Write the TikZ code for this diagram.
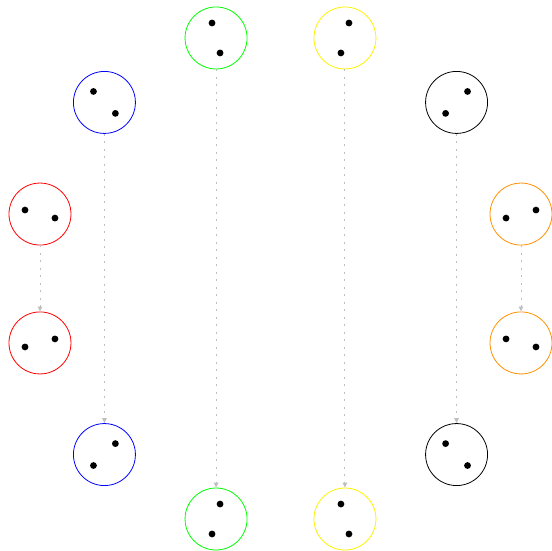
\documentclass[tikz,border=0pt]{standalone}
\usetikzlibrary{calc,arrows.meta}
\definecolor{ballorange}{RGB}{255,145,0}
\begin{document}
\begin{tikzpicture}[x=1pt,y=1pt,
  ball/.style={circle, draw=#1, line width=0.8pt, minimum size=62pt, inner sep=0pt},
  link/.style={draw=lightgray, line width=0.9pt, dash pattern=on 2pt off 5.5pt,
    -{Triangle[width=4.5pt,length=5pt]}},
  pip/.style={fill=black}]
\useasboundingbox (0,0) rectangle (552,551);
\coordinate (O) at (280.5,272.5);
\foreach \a/\c/\nm in {105/green/gt,75/yellow/yt,45/black/kt,15/ballorange/ot,
  -15/ballorange/ob,-45/black/kb,-75/yellow/yb,-105/green/gb,
  -135/blue/bb,-165/red/rb,165/red/rt,135/blue/bt} {
  \node[ball=\c] (\nm) at ($(O)+(\a:249)$) {};
  \fill[pip] ($(\nm)+(\a:15.5)$) circle (3.4);
  \fill[pip] ($(\nm)-(\a:15.5)$) circle (3.4);
}
\foreach \u/\v in {gt/gb,yt/yb,kt/kb,ot/ob,bt/bb,rt/rb}
  \draw[link] (\u.south) -- (\v.north);
\end{tikzpicture}
\end{document}
